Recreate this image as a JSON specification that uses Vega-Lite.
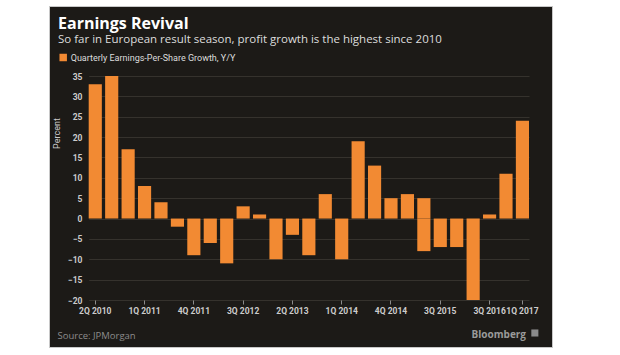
{
  "$schema": "https://vega.github.io/schema/vega-lite/v6.json",
  "width": 503,
  "height": 341,
  "autosize": {"type": "none"},
  "padding": {"left": 49, "top": 6, "right": 68, "bottom": 8},
  "background": "#ffffff",
  "config": {
    "font": "Open Sans",
    "view": {"fill": "#1c1a17", "stroke": "#c8c8c8", "strokeWidth": 1}
  },
  "title": {
    "text": "Earnings Revival",
    "subtitle": "So far in European result season, profit growth is the highest since 2010",
    "anchor": "start",
    "frame": "group",
    "orient": "top",
    "offset": -39.5,
    "dx": 9,
    "font": "Open Sans",
    "fontSize": 16,
    "fontWeight": "bold",
    "color": "#ffffff",
    "subtitleFont": "Open Sans",
    "subtitleFontSize": 11.5,
    "subtitleColor": "#dddddd",
    "subtitlePadding": 2
  },
  "layer": [
    {
      "data": {
        "values": [
          {"quarter": "2Q 2010", "growth": 33},
          {"quarter": "3Q 2010", "growth": 35},
          {"quarter": "4Q 2010", "growth": 17},
          {"quarter": "1Q 2011", "growth": 8},
          {"quarter": "2Q 2011", "growth": 4},
          {"quarter": "3Q 2011", "growth": -2},
          {"quarter": "4Q 2011", "growth": -9},
          {"quarter": "1Q 2012", "growth": -6},
          {"quarter": "2Q 2012", "growth": -11},
          {"quarter": "3Q 2012", "growth": 3},
          {"quarter": "4Q 2012", "growth": 1},
          {"quarter": "1Q 2013", "growth": -10},
          {"quarter": "2Q 2013", "growth": -4},
          {"quarter": "3Q 2013", "growth": -9},
          {"quarter": "4Q 2013", "growth": 6},
          {"quarter": "1Q 2014", "growth": -10},
          {"quarter": "2Q 2014", "growth": 19},
          {"quarter": "3Q 2014", "growth": 13},
          {"quarter": "4Q 2014", "growth": 5},
          {"quarter": "1Q 2015", "growth": 6},
          {"quarter": "2Q 2015", "growth": 5},
          {"quarter": "2Q 2015", "growth": -8},
          {"quarter": "3Q 2015", "growth": -7},
          {"quarter": "4Q 2015", "growth": -7},
          {"quarter": "2Q 2016", "growth": -20},
          {"quarter": "3Q 2016", "growth": 1},
          {"quarter": "4Q 2016", "growth": 11},
          {"quarter": "1Q 2017", "growth": 24}
        ]
      },
      "mark": {"type": "bar"},
      "encoding": {
        "x": {
          "field": "quarter",
          "type": "ordinal",
          "sort": null,
          "scale": {
            "type": "band",
            "domain": ["2Q 2010","3Q 2010","4Q 2010","1Q 2011","2Q 2011","3Q 2011","4Q 2011","1Q 2012","2Q 2012","3Q 2012","4Q 2012","1Q 2013","2Q 2013","3Q 2013","4Q 2013","1Q 2014","2Q 2014","3Q 2014","4Q 2014","1Q 2015","2Q 2015","3Q 2015","4Q 2015","2Q 2016","3Q 2016","4Q 2016","1Q 2017"],
            "range": [39.7, 480],
            "paddingInner": 0.2,
            "paddingOuter": 0,
            "round": false
          },
          "axis": {
            "values": ["2Q 2010","1Q 2011","4Q 2011","3Q 2012","2Q 2013","1Q 2014","4Q 2014","3Q 2015","3Q 2016","1Q 2017"],
            "orient": "bottom",
            "offset": -47,
            "domain": false,
            "ticks": true,
            "tickSize": 4,
            "tickColor": "#8c8c8c",
            "labelAngle": 0,
            "labelColor": "#cccccc",
            "labelFont": "Roboto",
            "labelFontSize": 8.5,
            "labelFontWeight": "bold",
            "labelPadding": 2,
            "labelOverlap": false,
            "grid": false,
            "title": "Source: JPMorgan",
            "titleAnchor": "start",
            "titleAlign": "left",
            "titleBaseline": "alphabetic",
            "titleX": 8,
            "titleY": 38.5,
            "titleFontSize": 9.5,
            "titleFontWeight": "normal",
            "titleColor": "#8c8c8c"
          }
        },
        "y": {
          "field": "growth",
          "type": "quantitative",
          "stack": null,
          "scale": {"domain": [-31.54, 52.19], "nice": false, "zero": false},
          "axis": {
            "values": [-20, -15, -10, -5, 0, 5, 10, 15, 20, 25, 30, 35],
            "tickCount": 30,
            "orient": "left",
            "offset": -36,
            "domain": false,
            "ticks": false,
            "labelPadding": 3,
            "labelOverlap": false,
            "labelColor": "#cccccc",
            "labelFont": "Roboto",
            "labelFontSize": 8.5,
            "labelFontWeight": "bold",
            "grid": true,
            "gridColor": "#35322d",
            "gridWidth": 1,
            "title": "Percent",
            "titleColor": "#cccccc",
            "titleFont": "Roboto",
            "titleFontSize": 9,
            "titleFontWeight": "normal",
            "titleAngle": -90,
            "titleX": -24,
            "titleY": 127
          }
        },
        "color": {
          "datum": "Quarterly Earnings-Per-Share Growth, Y/Y",
          "scale": {"range": ["#f28a33"]},
          "legend": {
            "orient": "none",
            "legendX": 9.7,
            "legendY": 47,
            "title": null,
            "padding": 0,
            "symbolType": "square",
            "symbolSize": 56,
            "symbolStrokeWidth": 0,
            "labelColor": "#dddddd",
            "labelFont": "Roboto",
            "labelFontSize": 9,
            "labelLimit": 0,
            "labelOffset": 3
          }
        }
      }
    },
    {
      "mark": {"type": "rule", "color": "#8c8c8c", "strokeWidth": 1},
      "encoding": {
        "x": {"datum": "2Q 2010", "type": "ordinal", "bandPosition": -0.28},
        "x2": {"datum": "1Q 2017", "bandPosition": 1.25},
        "y": {"datum": -20, "type": "quantitative"}
      }
    },
    {
      "data": {"values": [{"brand": "Bloomberg"}]},
      "mark": {"type": "text", "align": "right", "baseline": "alphabetic", "fontSize": 10, "fontWeight": "bold", "color": "#9a9a9a", "dx": -3},
      "encoding": {
        "x": {"datum": "1Q 2017", "type": "ordinal", "bandPosition": 1},
        "y": {"datum": -29.3, "type": "quantitative"},
        "text": {"field": "brand"}
      }
    },
    {
      "data": {"values": [{"brand": "Bloomberg"}]},
      "mark": {"type": "point", "shape": "square", "filled": true, "size": 50, "color": "#8a8a8a", "opacity": 1},
      "encoding": {
        "x": {"datum": "1Q 2017", "type": "ordinal", "bandPosition": 1.445},
        "y": {"datum": -28.1, "type": "quantitative"}
      }
    }
  ]
}
